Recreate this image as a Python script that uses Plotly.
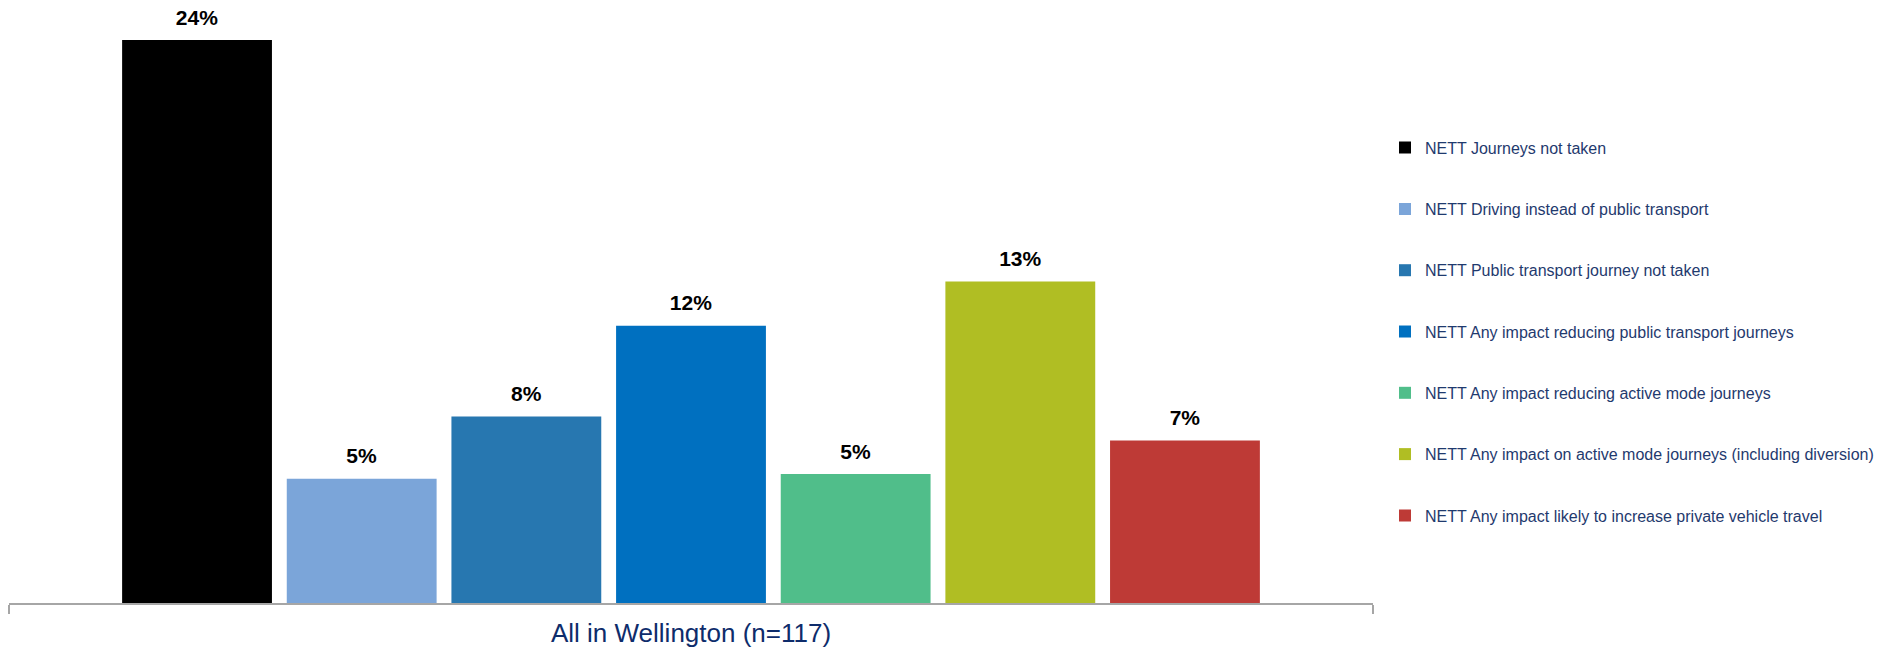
import plotly.graph_objects as go

# survey group shown on the x axis
group = ["All in Wellington (n=117)"]

# one series per NETT measure
series = [
    "NETT Journeys not taken",
    "NETT Driving instead of public transport",
    "NETT Public transport journey not taken",
    "NETT Any impact reducing public transport journeys",
    "NETT Any impact reducing active mode journeys",
    "NETT Any impact on active mode journeys (including diversion)",
    "NETT Any impact likely to increase private vehicle travel",
]
values = [23.55, 5.2, 7.8, 11.6, 5.4, 13.45, 6.8]
labels = ["24%", "5%", "8%", "12%", "5%", "13%", "7%"]
colors = ["#000000", "#7BA5D9", "#2777B0", "#0070C0", "#50BE8A", "#B0BE23", "#BE3A36"]

fig = go.Figure()
for name, val, lab, col in zip(series, values, labels, colors):
    fig.add_trace(go.Bar(
        name=name,
        x=group,
        y=[val],
        text=[lab],
        # big label on the first line, tiny blank second line lifts it off the bar
        texttemplate="<span style='font-size:21px'><b>%{text}</b></span><br>\u00a0",
        textposition="outside",
        textfont=dict(family="Liberation Sans, Arial", size=8, color="#000000"),
        cliponaxis=False,
        marker=dict(color=col, line=dict(width=0)),
        legendgroup=name,
    ))

fig.update_layout(
    width=1879,
    height=650,
    margin=dict(l=9, r=506, t=20, b=47, autoexpand=False),
    paper_bgcolor="white",
    plot_bgcolor="white",
    barmode="group",
    bargap=0.155,
    bargroupgap=0.09,
    showlegend=True,
    legend=dict(
        x=1.0088,
        xanchor="left",
        y=0.8101,
        yanchor="top",
        font=dict(family="Liberation Sans, Arial", size=16, color="#1F3A6E"),
        tracegroupgap=37.5,
        bgcolor="rgba(0,0,0,0)",
    ),
    xaxis=dict(
        automargin=False,
        showline=True,
        linecolor="#A6A6A6",
        linewidth=2,
        ticks="outside",
        tickson="boundaries",
        ticklen=9,
        tickwidth=1.5,
        tickcolor="#A6A6A6",
        ticklabelstandoff=6,
        tickfont=dict(family="Liberation Sans, Arial", size=26, color="#0E2C6B"),
        showgrid=False,
        zeroline=False,
    ),
    yaxis=dict(
        automargin=False,
        range=[0, 24.39],
        visible=False,
        showgrid=False,
        zeroline=False,
    ),
)

# drop the default page margin so the figure fills the window exactly
fig.write_html(
    "out.html",
    config={"displayModeBar": False},
    post_script="document.body.style.margin='0';",
)
